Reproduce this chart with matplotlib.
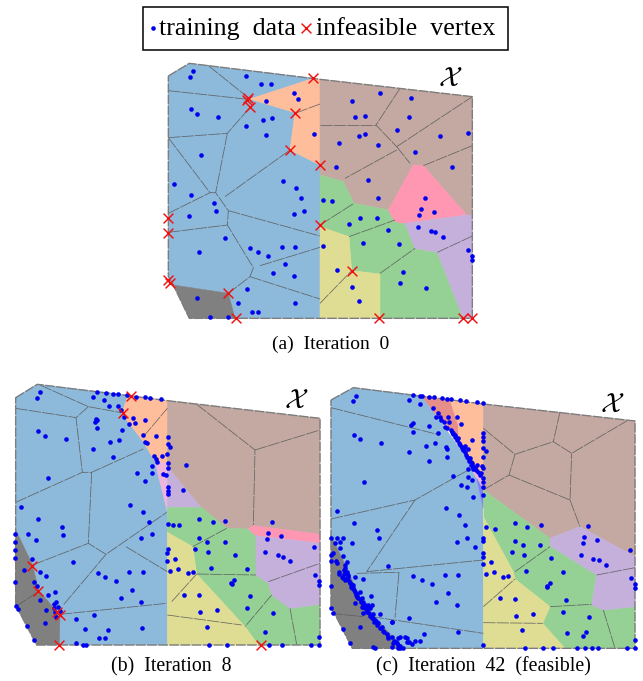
import matplotlib
matplotlib.use("Agg")
import matplotlib.pyplot as plt

W, H = 643, 681
BLUE, ORANGE, BROWN, GREEN, YELLOW, PURPLE, PINK, GRAY = ('#8DB9DA', '#FFBE9B', '#C3A9A2', '#95D095',
                                                          '#DFDD93', '#C5B0DC', '#FF96B2', '#808080')
# ---- Panel a: zoomed-reference coordinates
a_outline = [(55,228),(118,190),(510,238),(967,290),(967,955),(118,955),(70,855),(55,830),(55,228)]
a_regions = [
 (BLUE, [(55,228),(118,190),(490,235),(300,297),(435,338),(420,450),(510,495),(510,955),(255,955),(235,880),(70,855),(55,830)]),
 (ORANGE, [(490,235),(510,238),(510,495),(420,450),(435,338),(300,297)]),
 (GRAY, [(70,855),(235,880),(255,955),(118,955)]),
 (BROWN, [(510,238),(967,290),(967,645),(950,645),(820,497),(790,495),(715,630),(612,610),(580,545),(510,525)]),
 (GREEN, [(510,525),(580,545),(612,610),(715,630),(735,665),(765,670),(795,745),(862,757),(940,955),(690,955),(690,822),(605,812),(597,710),(510,680)]),
 (YELLOW, [(510,680),(597,710),(605,812),(690,822),(690,955),(510,955)]),
 (PINK, [(790,495),(820,497),(950,645),(765,670),(735,665),(715,630)]),
 (PURPLE, [(765,670),(950,645),(967,645),(967,955),(940,955),(862,757),(795,745)]),
]
a_edges = [
 [(175,197),(300,297)], [(55,272),(295,298)], [(55,413),(232,400),(300,322)], [(232,400),(197,578)],
 [(55,413),(180,578),(197,578),(235,632),(232,675),(310,803),(300,830),(235,880)],
 [(225,590),(420,450)], [(235,632),(510,708)], [(55,640),(180,578)], [(55,697),(232,675)],
 [(330,797),(510,742)], [(300,830),(510,897)], [(510,910),(605,812)],
 [(510,375),(678,375)], [(750,265),(678,375),(740,440)], [(740,440),(967,290)], [(740,440),(780,490)],
 [(740,450),(585,535)], [(820,497),(967,437)], [(510,312),(435,340)],
 [(510,675),(612,610)], [(597,710),(735,660)], [(690,820),(795,745)], [(862,757),(967,708)],
]
a_points = [(128,213),(120,230),(288,228),(334,253),(362,252),(431,278),(444,296),(347,303),(122,328),(142,341),(205,352),
 (339,361),(366,353),(288,379),(349,405),(493,401),(153,466),(72,551),(123,586),(193,608),(197,632),(116,647),(398,544),
 (437,565),(454,594),(463,632),(432,642),(518,600),(546,604),(226,713),(148,755),(301,744),(325,757),(355,768),(397,741),
 (436,740),(405,793),(370,819),(431,829),(290,867),(264,908),(306,935),(323,937),(434,908),(142,893),(180,950),(235,950),
 (519,737),(561,809),(607,860),(628,903),(750,849),(758,815),(828,863),(640,730),(748,733),(715,691),(596,673),(630,653),
 (682,653),(605,304),(691,278),(783,295),(616,350),(645,347),(778,351),(741,391),(628,407),(645,402),(684,434),(567,428),
 (558,500),(653,541),(684,593),(795,457),(871,409),(953,398),(906,501),(825,595),(814,628),(808,645),(851,637),(803,682),
 (842,692),(856,697),(880,710),(953,750),(966,767),(965,781)]
a_crosses = [(490,235),(295,293),(290,300),(300,322),(435,338),(420,450),(510,495),(510,675),(55,655),(55,700),(53,840),
 (60,850),(235,880),(257,955),(605,812),(688,955),(940,955),(965,955)]

# ---- Panel b
b_outline = [(47,68),(112,28),(502,77),(960,130),(960,810),(110,810),(47,690),(47,68)]
b_regions = [
 (BLUE, [(47,68),(112,28),(385,60),(365,115),(430,200),(465,260),(502,410),(502,810),(178,810),(180,720),(115,645),(98,570),(47,465)]),
 (GRAY, [(47,465),(98,570),(115,645),(180,720),(178,810),(110,810),(47,690)]),
 (ORANGE, [(385,60),(502,77),(502,265),(465,260),(430,200),(365,115)]),
 ('#EDB5DC', [(465,260),(502,265),(502,410)]),
 (PURPLE, [(502,272),(605,397),(502,397)]),
 (BROWN, [(502,77),(960,130),(960,478),(760,452),(745,462),(680,460),(605,397),(502,272)]),
 (GREEN, [(502,397),(605,397),(680,460),(745,462),(768,482),(768,600),(805,625),(815,660),(870,700),(960,688),(960,810),(775,810),(735,755),(590,597),(578,515),(502,472)]),
 (YELLOW, [(502,472),(578,515),(590,597),(735,755),(775,810),(502,810)]),
 (PINK, [(745,462),(760,452),(960,478),(960,505),(768,482)]),
 (PURPLE, [(768,482),(960,505),(960,688),(870,700),(815,660),(805,625),(768,600)]),
]
b_edges = [
 [(47,100),(228,128)], [(120,30),(265,95),(375,115)], [(265,95),(228,128),(247,292)],
 [(47,382),(247,292),(275,292),(430,222)], [(275,292),(265,505),(318,538),(500,412)], [(98,570),(265,505)],
 [(318,538),(190,690)], [(180,718),(500,685)], [(378,515),(502,590)], [(430,185),(502,100)],
 [(590,88),(765,225),(760,450)], [(765,225),(960,165)], [(590,597),(768,600)], [(680,460),(578,515)],
 [(815,660),(735,755)], [(870,700),(890,808)], [(805,620),(960,565)], [(515,680),(590,597)],
 [(502,720),(725,750)], [(47,695),(115,650)],
]
b_points = [(120,52),(112,68),(280,67),(291,50),(318,53),(340,56),(354,57),(382,60),(407,65),(434,67),(451,69),(484,72),
 (312,74),(326,93),(353,92),(362,105),(288,133),(291,136),(285,142),(292,160),(367,165),(372,125),(400,130),(405,143),
 (386,147),(436,136),(114,168),(134,183),(197,193),(358,195),(331,202),(279,221),(428,180),(467,183),(436,200),(442,205),
 (503,187),(503,207),(511,216),(500,238),(340,247),(463,243),(468,252),(471,260),(485,243),(457,272),(557,270),(503,265),
 (505,280),(457,293),(411,294),(436,319),(490,297),(497,300),(144,310),(503,335),(503,347),(503,358),(550,345),(64,396),
 (390,389),(429,411),(115,433),(447,440),(185,455),(188,480),(84,478),(107,494),(424,489),(455,478),(504,447),(520,450),
 (537,451),(598,433),(638,442),(676,439),(816,441),(805,475),(800,492),(843,484),(598,488),(622,500),(674,500),(585,521),
 (624,530),(706,539),(795,530),(834,541),(848,545),(871,559),(942,515),(46,478),(46,500),(46,525),(44,548),(96,551),
 (71,585),(120,592),(138,604),(46,621),(102,622),(112,632),(143,660),(164,652),(168,680),(120,675),(163,688),(173,697),
 (162,698),(47,692),(54,702),(139,704),(165,712),(168,725),(134,745),(81,754),(103,795),(181,708),(218,562),(293,593),
 (316,606),(347,618),(388,590),(428,590),(504,522),(502,535),(500,558),(525,551),(510,587),(534,582),(563,595),(578,592),
 (632,578),(740,582),(703,615),(693,625),(696,628),(945,600),(958,618),(958,630),(397,644),(362,670),(422,681),(552,660),
 (597,661),(750,664),(742,700),(600,712),(652,706),(820,715),(282,719),(227,731),(256,761),(324,766),(297,788),(315,790),
 (425,760),(620,755),(795,772),(227,804),(248,809),(259,809),(627,809),(681,809),(806,809),(846,809),(934,809),(958,785),(958,809)]
b_crosses = [(392,62),(368,115),(97,572),(115,648),(172,712),(180,720),(178,810),(783,810)]

# ---- Panel c
c_outline = [(33,75),(100,38),(490,87),(945,138),(945,820),(97,820),(33,695),(33,75)]
c_regions = [
 (BLUE, [(33,75),(100,38),(305,62),(340,110),(440,250),(470,310),(490,400),(490,820),(250,820),(130,690),(85,590),(33,480)]),
 (GRAY, [(33,480),(85,590),(130,690),(250,820),(97,820),(33,695)]),
 ('#E68F8A', [(305,62),(390,75),(415,150),(415,190),(395,165),(340,110)]),
 (GRAY, [(395,165),(415,190),(440,250)]),
 (ORANGE, [(390,75),(490,87),(490,300),(455,260),(440,250),(415,190),(415,150)]),
 ('#EDB5DC', [(440,250),(455,260),(490,300),(490,345),(470,310)]),
 ('#8080F0', [(470,310),(490,345),(490,400)]),
 (BROWN, [(490,87),(945,138),(945,545),(780,455),(690,490),(490,345)]),
 (GREEN, [(490,345),(690,490),(690,512),(830,600),(815,690),(850,705),(945,695),(945,820),(735,820),(668,745),(690,695),(585,612),(580,590),(490,425)]),
 (YELLOW, [(490,400),(490,425),(580,590),(585,612),(690,695),(668,745),(735,820),(490,820)]),
 (PURPLE, [(690,490),(780,455),(945,545),(945,695),(850,705),(815,690),(830,600),(690,512)]),
]
c_edges = [
 [(33,98),(360,180)], [(33,432),(285,375),(445,285)], [(285,375),(140,590)], [(110,595),(237,592)], [(140,590),(490,555)],
 [(237,592),(225,728)], [(155,725),(490,775)], [(720,110),(700,200),(755,235),(920,138)], [(490,160),(585,238),(700,200)],
 [(585,238),(567,300),(490,345)], [(567,300),(750,375),(755,235)], [(750,375),(780,455)], [(585,590),(690,515)],
 [(690,695),(815,688)], [(850,705),(885,820)], [(490,695),(585,612)], [(490,743),(668,745)], [(830,600),(945,578)],
 [(33,715),(130,725)],
]
c_points = [(107,62),(100,78),(267,76),(279,60),(300,63),(305,62),(326,65),(341,67),(367,70),(380,71),(393,73),(420,75),
 (437,77),(470,81),(490,85),(300,86),(340,100),(353,115),(360,125),(362,134),(385,125),(410,125),(423,146),(278,143),
 (274,150),(326,153),(280,170),(354,174),(376,155),(388,140),(382,160),(392,165),(400,175),(405,185),(415,188),(101,180),
 (121,192),(184,203),(345,205),(318,213),(267,231),(378,215),(380,222),(425,215),(435,212),(443,222),(455,194),(490,175),
 (490,185),(490,197),(490,220),(497,227),(488,245),(382,246),(328,257),(450,248),(455,265),(460,275),(470,270),(485,272),
 (490,280),(445,282),(445,305),(455,315),(398,303),(424,329),(440,336),(132,320),(490,360),(458,365),(52,407),(378,399),
 (417,421),(102,443),(434,451),(172,465),(176,489),(96,505),(412,500),(442,489),(466,517),(497,456),(525,461),(585,443),
 (620,455),(664,450),(803,452),(793,485),(788,503),(830,494),(586,497),(610,510),(661,510),(575,530),(612,540),(693,548),
 (782,540),(820,551),(836,554),(859,570),(930,524),(490,490),(490,497),(490,535),(490,547),(490,567),(513,561),(497,597),
 (522,592),(548,605),(565,602),(619,589),(728,592),(690,625),(682,633),(680,637),(933,610),(945,628),(945,640),(385,655),
 (349,680),(410,691),(540,670),(585,671),(738,675),(730,711),(587,722),(640,717),(808,725),(268,729),(216,741),(312,776),
 (413,770),(607,766),(798,771),(788,782),(740,775),(280,603),(305,616),(335,627),(376,600),(415,600),(204,572),(614,820),
 (668,820),(700,820),(772,820),(795,820),(816,820),(835,820),(922,820),(945,795),(945,820),(490,810),(160,815),(165,820),
 (121,755),(68,763),(90,805),(33,632),(33,700),(40,713),(285,797),(300,799),(268,800),(260,788)]
c_band_upper = [(395,170),(405,180),(420,210),(430,225),(437,240),(445,250),(452,262),(458,275),(468,285),(480,300),(490,320),
 (452,270),(460,282),(432,218),(412,195),(372,140),(348,125),(398,178),(410,192),(425,220),(440,245),(448,258),(456,270),
 (464,280),(475,290),(484,295),(488,310),(490,335),(435,232),(418,205)]
c_band_lower = [(33,488),(50,488),(70,488),(60,500),(45,505),(40,535),(33,540),(60,518),(68,542),(33,557),(47,558),(50,565),
 (82,562),(75,570),(75,580),(57,590),(58,597),(72,597),(65,605),(80,610),(85,600),(105,605),(75,615),(128,612),(90,625),
 (93,635),(100,640),(105,650),(120,650),(153,662),(110,665),(125,670),(130,680),(105,684),(135,690),(145,690),(155,690),
 (125,695),(140,705),(150,700),(130,715),(160,718),(180,718),(165,735),(175,745),(185,755),(215,740),(190,768),(205,785),
 (215,785),(235,790),(240,785),(255,785),(262,800),(275,806),(220,805),(215,815),(235,810),(240,820),(248,820),(235,820),
 (80,590),(88,618),(98,630),(112,658),(120,672),(128,688),(138,700),(147,715),(155,728),(170,742),(200,778),(228,800),
 (72,585),(78,595),(83,605),(70,608),(92,628),(96,640),(102,645),(108,660),(115,668),(122,680),(128,695),(134,700),
 (142,712),(150,722),(158,730),(163,740),(172,750),(180,760),(193,772),(203,790),(222,798),(232,805),(240,812)]

captions = ['(a)  Iteration  0', '(b)  Iteration  8', '(c)  Iteration  42  (feasible)']
legend_labels = ['training  data', 'infeasible  vertex']
set_symbol = r'$\mathcal{X}$'

plt.rcParams['font.family'] = ['Liberation Serif', 'DejaVu Serif']
fig = plt.figure(figsize=(W / 100, H / 100), dpi=100)


def panel_axes(x, y, w, h, zoom_w, zoom_h):
    ax = fig.add_axes([x / W, 1 - (y + h) / H, w / W, h / H])
    ax.set_xlim(0, zoom_w)
    ax.set_ylim(zoom_h, 0)
    ax.axis('off')
    return ax


def draw_panel(ax, regions, outline, edges, points, crosses, symbol_xy):
    for color, poly in regions:
        xs, ys = zip(*poly)
        ax.fill(xs, ys, color=color, lw=0.4, zorder=1)
    for e in edges:
        xs, ys = zip(*e)
        ax.plot(xs, ys, color='#5a5a5a', lw=0.55, ls=(0, (16, 1.5)), zorder=2, alpha=0.9)
    xs, ys = zip(*outline)
    ax.plot(xs, ys, color='#7d7d7d', lw=1.0, ls=(0, (7, 1)), zorder=3)
    xs, ys = zip(*points)
    ax.scatter(xs, ys, s=11, color='#0000F0', lw=0, zorder=4, clip_on=False)
    if crosses:
        xs, ys = zip(*crosses)
        ax.scatter(xs, ys, s=50, marker='x', color='#F01010', linewidths=1.05, zorder=5, clip_on=False)
    ax.text(*symbol_xy, set_symbol, fontsize=20, math_fontfamily='cm', ha='center', va='center', color='black', zorder=6)


ax_a = panel_axes(150, 0, 340, 340, 1020, 1020)
ax_b = panel_axes(0, 375, 325, 306, 975, 918)
ax_c = panel_axes(320, 375, 323, 306, 969, 918)
draw_panel(ax_a, a_regions, a_outline, a_edges, a_points, a_crosses, (902, 240))
draw_panel(ax_b, b_regions, b_outline, b_edges, b_points, b_crosses, (888, 80))
draw_panel(ax_c, c_regions, c_outline, c_edges, c_points + c_band_upper + c_band_lower, [], (876, 90))

# overlay in reference pixels: legend and captions
ov = fig.add_axes([0, 0, 1, 1], zorder=10)
ov.set_xlim(0, W)
ov.set_ylim(H, 0)
ov.axis('off')
ov.patch.set_alpha(0)
ov.add_patch(plt.Rectangle((142.5, 6.5), 365, 43.5, fill=False, ec='black', lw=1.1))
ov.scatter([153], [28], s=11, color='#0000F0', lw=0)
ov.scatter([306], [28], s=50, marker='x', color='#F01010', linewidths=1.05)
ov.text(159, 35, legend_labels[0], fontsize=18.7, ha='left', va='baseline')
ov.text(316, 35, legend_labels[1], fontsize=18.7, ha='left', va='baseline')
ov.text(331, 349, captions[0], fontsize=14, ha='center', va='baseline')
ov.text(171, 671, captions[1], fontsize=14.3, ha='center', va='baseline')
ov.text(483, 671, captions[2], fontsize=14.3, ha='center', va='baseline')

fig.savefig('out.png', dpi=100)
